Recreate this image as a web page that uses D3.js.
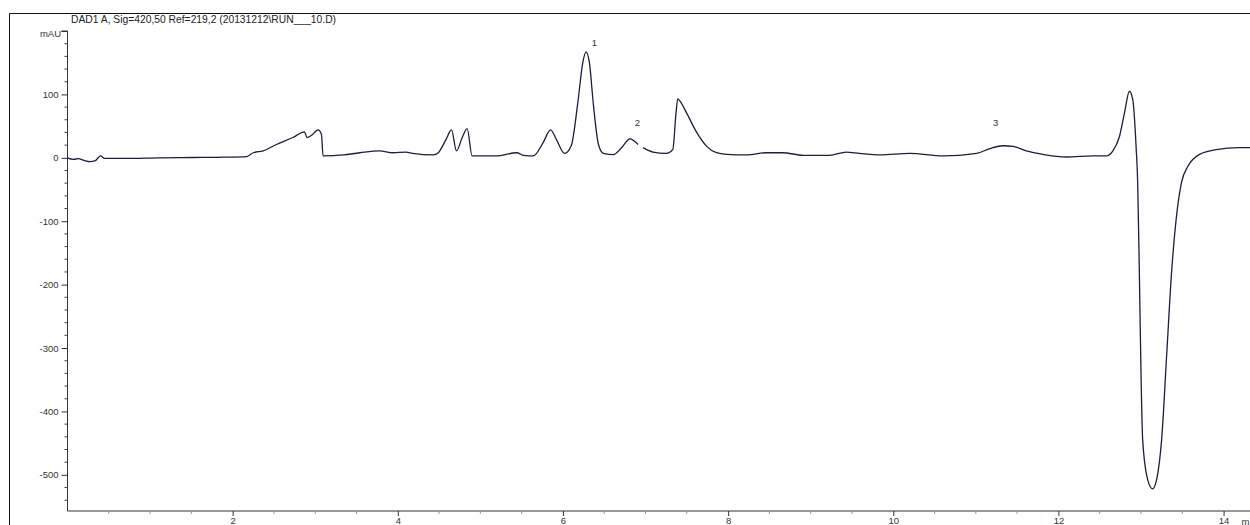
<!DOCTYPE html>
<html>
<head>
<meta charset="utf-8">
<script src="https://cdn.jsdelivr.net/npm/d3@7/dist/d3.min.js"></script>
<style>
  html, body { margin: 0; padding: 0; background: #fff; }
  svg { display: block; font-family: "Liberation Sans", Arial, sans-serif; }
  .tick-label { font-size: 9.5px; fill: #333; }
  .title { font-size: 10.3px; fill: #222; }
  .peak-label { font-size: 9.5px; fill: #333; }
</style>
</head>
<body>
<svg id="chart" width="1250" height="525"></svg>
<script>
// Chromatogram, DAD1 A signal. Retention time in min, absorbance in mAU.
// null in the signal = the small break in the trace after peak 2.

const timeMin = [
  0.00, 0.07, 0.13, 0.20, 0.27, 0.33, 0.40, 0.45, 0.72, 1.10,
  1.52, 1.90, 2.17, 2.25, 2.37, 2.53, 2.73, 2.87, 2.90, 2.955,
  3.035, 3.075, 3.095, 3.34, 3.54, 3.78, 3.94, 4.10, 4.18, 4.43,
  4.49, 4.58, 4.65, 4.71, 4.78, 4.84, 4.90, 5.19, 5.44, 5.52,
  5.64, 5.76, 5.85, 5.92, 6.02, 6.10, 6.18, 6.24, 6.28, 6.32,
  6.37, 6.43, 6.49, 6.61, 6.71, 6.81, 6.91, 6.94, 6.97, 7.09,
  7.25, 7.33, 7.37, 7.39, 7.42, 7.50, 7.62, 7.74, 7.86, 7.98, 8.22,
  8.46, 8.66, 8.91, 9.23, 9.43, 9.59, 9.84, 10.20, 10.60, 11.01,
  11.17, 11.33, 11.45, 11.61, 11.81, 12.10, 12.42, 12.58, 12.66, 12.74,
  12.80, 12.86, 12.90, 12.94, 12.96, 12.98, 13.00, 13.02, 13.08, 13.14,
  13.19, 13.25, 13.31, 13.37, 13.43, 13.49, 13.57, 13.71, 13.91, 14.19,
  14.32
];

const signalMAU = [
  0, -2.4, -1.3, -4, -6, -5, 3, -1, -1, 0,
  0.5, 1, 2, 8, 11, 21, 32, 41, 32, 35.5,
  44, 37, 3, 4.5, 8, 11, 8, 9, 7, 4.5,
  8, 28, 44, 11, 32, 46, 3, 3, 8, 4,
  3, 24, 44, 29, 7, 19, 87, 150, 167, 150,
  82, 21, 7, 5, 16, 30, 21, null, 16, 9,
  7, 13, 72, 93, 89, 70, 40, 18, 8, 5.5, 4.5,
  8, 8, 4, 4, 9, 7, 4.5, 7, 3, 7,
  14.5, 19, 18, 11, 5.5, 1.3, 3, 3, 11, 34,
  71, 105, 92, 19, -40, -181, -339, -444, -507, -522,
  -507, -444, -313, -181, -92, -39, -13, 5.5, 13, 16,
  16
];

// Peak annotations: label text and where it sits (time, mAU).
const peakNames = ['1', '2', '3'];
const peakTimes = [6.38, 6.90, 11.24];
const peakLabelMAU = [176, 50, 50];

const xMajorTicks = [2, 4, 6, 8, 10, 12, 14];
const yMajorTicks = [-500, -400, -300, -200, -100, 0, 100, 200];

const titleText = 'DAD1 A, Sig=420,50 Ref=219,2 (20131212\\RUN___10.D)';
const yUnit = 'mAU';
const xUnit = 'min';

(function () {
  const svg = d3.select('#chart');

  const left = 67.5, right = 1250, top = 31, bottom = 511;

  const x = d3.scaleLinear().domain([0, 14.32]).range([left, right]);
  const y = d3.scaleLinear().domain([-557, 200]).range([bottom, top]);

  // Outer frame (runs off the right and bottom edges).
  svg.append('path')
    .attr('d', `M9.5,530 V13.5 H1260`)
    .attr('fill', 'none')
    .attr('stroke', '#111')
    .attr('stroke-width', 1);

  svg.append('text')
    .attr('class', 'title')
    .attr('x', 71)
    .attr('y', 23)
    .text(titleText);

  // ----- Y axis -----
  const yMinor = d3.range(-540, 201, 20).filter(v => v % 100 !== 0);
  const yAxis = d3.axisLeft(y).tickValues(yMajorTicks).tickSize(6).tickPadding(3)
    .tickFormat(d => d === 200 ? '' : d);
  const yG = svg.append('g').attr('transform', `translate(${left},0)`).call(yAxis);
  yG.select('.domain').attr('d', `M-6,${y(200)}H0V${bottom}`).attr('stroke', '#333');
  yG.selectAll('.tick line').attr('stroke', '#333');
  yG.selectAll('.tick text').attr('class', 'tick-label').attr('font-size', null).attr('font-family', null);
  yG.selectAll('.minor').data(yMinor).enter().append('line')
    .attr('class', 'minor')
    .attr('x1', -3).attr('x2', 0)
    .attr('y1', d => y(d)).attr('y2', d => y(d))
    .attr('stroke', '#444');

  svg.append('text')
    .attr('class', 'tick-label')
    .attr('x', 61)
    .attr('y', y(200) + 6)
    .attr('text-anchor', 'end')
    .text(yUnit);

  // ----- X axis -----
  // Labels sit low, as in the reference, partly under the bottom edge.
  const xMinor = d3.range(0.5, 14.3, 0.5).filter(v => v % 2 !== 0);
  const xAxis = d3.axisBottom(x).tickValues(xMajorTicks).tickSize(5).tickPadding(1);
  const xG = svg.append('g').attr('transform', `translate(0,${bottom})`).call(xAxis);
  xG.select('.domain').attr('d', `M${left},0H${right}`).attr('stroke', '#333');
  xG.selectAll('.tick line').attr('stroke', '#333');
  xG.selectAll('.tick text').attr('class', 'tick-label').attr('font-size', null).attr('font-family', null);
  xG.selectAll('.minor').data(xMinor).enter().append('line')
    .attr('class', 'minor')
    .attr('y1', 0).attr('y2', 3)
    .attr('x1', d => x(d)).attr('x2', d => x(d))
    .attr('stroke', '#999');

  svg.append('text')
    .attr('class', 'tick-label')
    .attr('x', x(14) + 18)
    .attr('y', bottom + 14)
    .text(xUnit);

  // ----- Trace -----
  const points = timeMin.map((t, i) => ({ t, v: signalMAU[i] }));
  const line = d3.line()
    .defined(d => d.v !== null)
    .x(d => x(d.t))
    .y(d => y(d.v))
    .curve(d3.curveMonotoneX);

  svg.append('path')
    .datum(points)
    .attr('d', line)
    .attr('fill', 'none')
    .attr('stroke', '#1c1e3a')
    .attr('stroke-width', 1.3)
    .attr('stroke-linejoin', 'round');

  // ----- Peak labels -----
  svg.selectAll('.peak-label')
    .data(peakNames)
    .enter().append('text')
    .attr('class', 'peak-label')
    .attr('text-anchor', 'middle')
    .attr('x', (d, i) => x(peakTimes[i]))
    .attr('y', (d, i) => y(peakLabelMAU[i]))
    .text(d => d);
})();
</script>
</body>
</html>
